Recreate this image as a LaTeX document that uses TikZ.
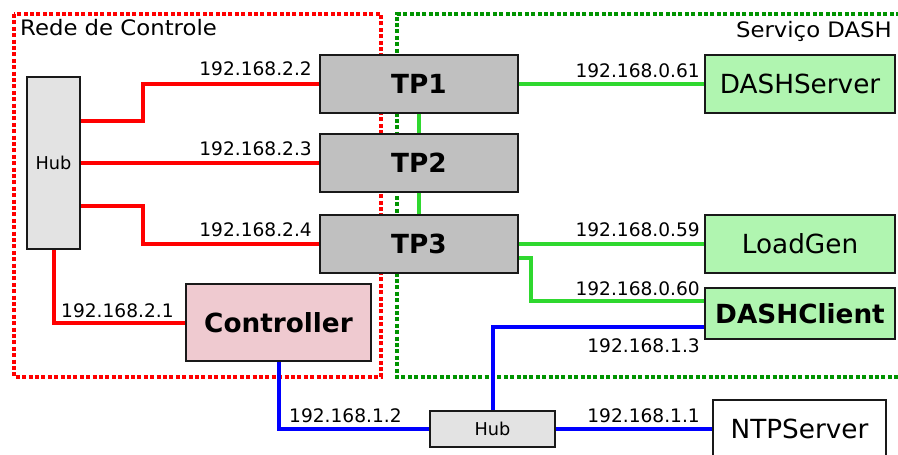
\documentclass[tikz,border=0pt]{standalone}
\usepackage{fontspec}
\setmainfont{DejaVu Sans}
\newfontfamily\lblfont{DejaVu Sans}[FakeStretch=1.07]
\usetikzlibrary{calc}

\definecolor{netred}{HTML}{FF0000}
\definecolor{netgreen}{HTML}{2FD82F}
\definecolor{netblue}{HTML}{0000FF}
\definecolor{zonegreen}{HTML}{009400}
\definecolor{tpgray}{HTML}{C0C0C0}
\definecolor{hubgray}{HTML}{E3E3E3}
\definecolor{ctrlpink}{HTML}{EFCAD0}
\definecolor{hostgreen}{HTML}{B0F5B0}

\tikzset{
  zone/.style={line width=4.2pt, dash pattern=on 4pt off 2.4pt},
  dev/.style={draw=black!90, line width=2.5pt, inner sep=0pt, text=black},
  bigtext/.style={font=\fontsize{26.3}{30}\selectfont},
  bigbold/.style={font=\fontsize{26.3}{30}\selectfont\bfseries},
  hubtext/.style={font=\fontsize{17.7}{20}\selectfont},
  tp/.style={dev, fill=tpgray, bigbold, minimum width=198pt, minimum height=58pt},
  host/.style={dev, fill=hostgreen, minimum width=190pt},
  ip/.style={inner sep=0pt, font=\fontsize{18.6}{22}\selectfont},
  title/.style={inner sep=0pt, font=\lblfont\fontsize{21.3}{24}\selectfont},
  link/.style={line width=4pt},
}

\begin{document}
\begin{tikzpicture}[x=1pt, y=-1pt]
\useasboundingbox (0,0) rectangle (898,455);

% network zones
\draw[zone, netred] (14,14) rectangle (381,377);
\draw[zone, zonegreen] (900,14) -- (397,14) -- (397,377) -- (900,377);
\node[title, anchor=base west] (rctitle) at (20,35) {Rede de Controle};
\node[title, anchor=base east] (dtitle) at (892,37) {Serviço DASH};

% devices
\node[dev, fill=hubgray, hubtext, minimum width=53pt, minimum height=172pt] (hubL) at (53.5,163) {Hub};
\node[tp] (tp1) at (419,84) {TP1};
\node[tp] (tp2) at (419,163) {TP2};
\node[tp] (tp3) at (419,244) {TP3};
\node[dev, fill=ctrlpink, bigbold, minimum width=185pt, minimum height=77pt] (ctrl) at (278.5,322.5) {Controller};
\node[host, bigtext, minimum height=58pt] (dserver) at (800,84) {DASHServer};
\node[host, bigtext, minimum height=58pt] (loadgen) at (800,244) {LoadGen};
\node[host, bigbold, minimum height=51pt] (dclient) at (800,313.5) {DASHClient};
\node[dev, fill=hubgray, hubtext, minimum width=125pt, minimum height=36pt] (hubB) at (492.5,429) {Hub};
\node[dev, fill=white, bigtext, minimum width=173pt, minimum height=58pt] (ntp) at (799.5,429) {NTPServer};

% control network (red)
\draw[link, netred] ($(hubL.east)+(0,-42)$) -- (143,121) |- (tp1.west);
\draw[link, netred] (hubL.east) -- (tp2.west);
\draw[link, netred] ($(hubL.east)+(0,43)$) -- (143,206) |- (tp3.west);
\draw[link, netred] (hubL.south) |- (ctrl.west);

% DASH service network (green)
\draw[link, netgreen] (tp1.east) -- (dserver.west);
\draw[link, netgreen] (tp3.east) -- (loadgen.west);
\draw[link, netgreen] ($(tp3.east)+(0,14)$) -- (531,258) |- ($(dclient.west)+(0,-12.5)$);
\draw[link, netgreen] (tp1.south) -- (tp2.north);
\draw[link, netgreen] (tp2.south) -- (tp3.north);

% time sync network (blue)
\draw[link, netblue] ($(dclient.west)+(0,13.5)$) -| (hubB.north);
\draw[link, netblue] (ctrl.south) |- (hubB.west);
\draw[link, netblue] (hubB.east) -- (ntp.west);

% addresses
\node[ip, anchor=base east] (ip22) at (312,75) {192.168.2.2};
\node[ip, anchor=base east] (ip23) at (312,155.5) {192.168.2.3};
\node[ip, anchor=base east] (ip24) at (312,236) {192.168.2.4};
\node[ip, anchor=base west] (ip21) at (61,317) {192.168.2.1};
\node[ip, anchor=base east] (ip061) at (700,77) {192.168.0.61};
\node[ip, anchor=base east] (ip059) at (700,236) {192.168.0.59};
\node[ip, anchor=base east] (ip060) at (700,295) {192.168.0.60};
\node[ip, anchor=base east] (ip13) at (700,352) {192.168.1.3};
\node[ip, anchor=base west] (ip12) at (289,422) {192.168.1.2};
\node[ip, anchor=base east] (ip11) at (700,422) {192.168.1.1};
\end{tikzpicture}
\end{document}
